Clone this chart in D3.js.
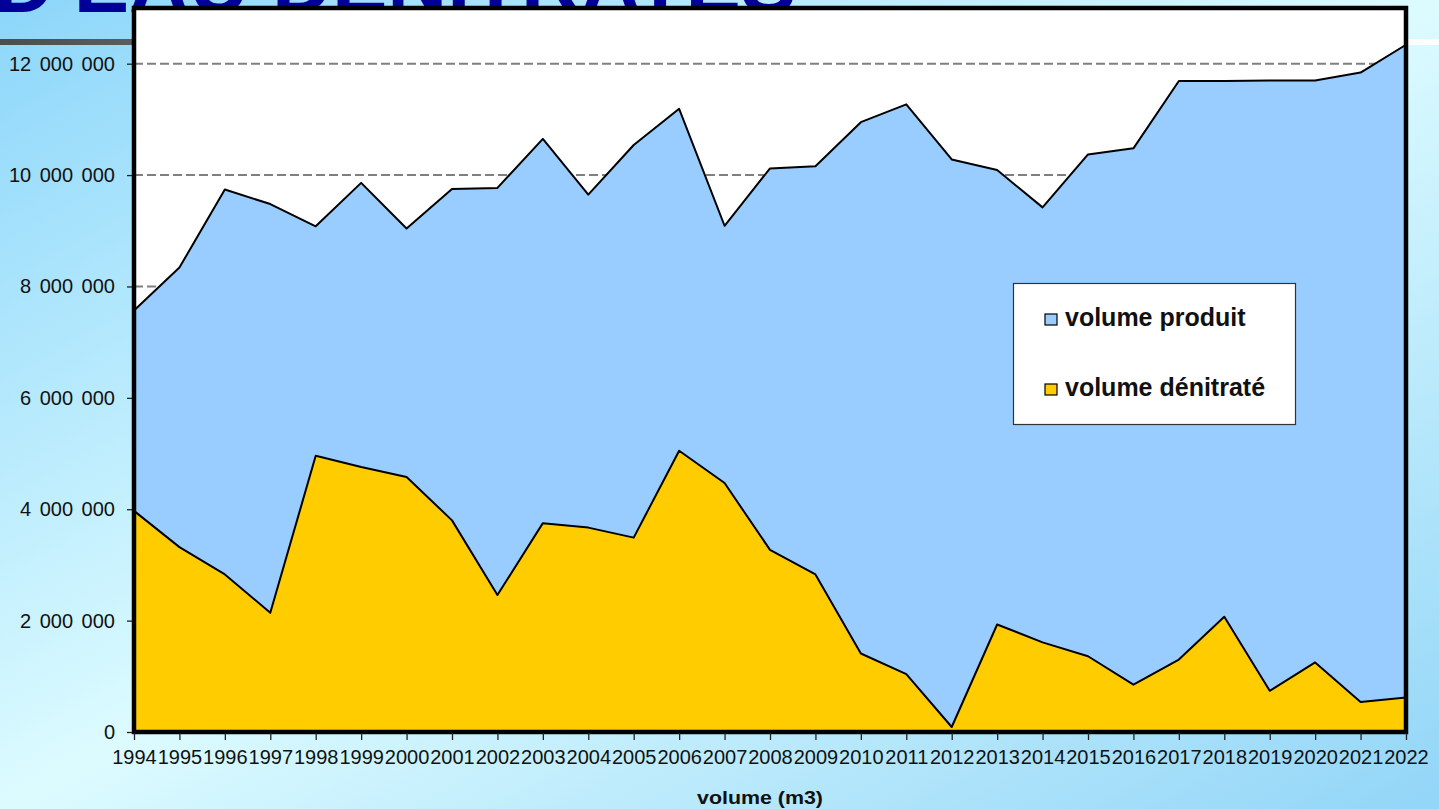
<!DOCTYPE html>
<html>
<head>
<meta charset="utf-8">
<script src="https://cdn.jsdelivr.net/npm/d3@7"></script>
<style>
  body { margin: 0; overflow: hidden; }
  svg text { font-family: Arial, "Liberation Sans", sans-serif; }
</style>
</head>
<body>
<div id="graph"></div>
<script>
const years = [1994, 1995, 1996, 1997, 1998, 1999, 2000, 2001, 2002, 2003, 2004, 2005, 2006, 2007,
               2008, 2009, 2010, 2011, 2012, 2013, 2014, 2015, 2016, 2017, 2018, 2019, 2020, 2021, 2022];

const volumeProduit = [7570000, 8340000, 9740000, 9480000, 9080000, 9860000, 9040000, 9750000, 9770000,
                       10650000, 9650000, 10540000, 11190000, 9090000, 10120000, 10160000, 10950000,
                       11270000, 10280000, 10090000, 9420000, 10370000, 10480000, 11690000, 11690000,
                       11700000, 11700000, 11840000, 12340000];

const volumeDenitrate = [3970000, 3320000, 2830000, 2140000, 4960000, 4760000, 4580000, 3800000, 2460000,
                         3750000, 3670000, 3490000, 5050000, 4470000, 3270000, 2830000, 1410000,
                         1040000, 90000, 1930000, 1610000, 1360000, 850000, 1300000, 2070000,
                         740000, 1250000, 540000, 620000];

const yTicks = [0, 2000000, 4000000, 6000000, 8000000, 10000000, 12000000];
const seriesNames = ["volume produit", "volume dénitraté"];
const axisTitle = "volume (m3)";
const titleText = "D'EAU DÉNITRATÉS";

const w = 1439,
      h = 809;

const vis = d3.select("#graph")
    .append("svg")
    .attr("width", w)
    .attr("height", h);

const defs = vis.append("defs");

const bg = defs.append("linearGradient")
    .attr("id", "bg")
    .attr("x1", "0").attr("y1", "0")
    .attr("x2", "1").attr("y2", "1");
bg.append("stop").attr("offset", "0%").attr("stop-color", "#8cd6fa");
bg.append("stop").attr("offset", "50%").attr("stop-color", "#dcfbff");
bg.append("stop").attr("offset", "100%").attr("stop-color", "#92d5f7");

const bar = defs.append("linearGradient")
    .attr("id", "bar")
    .attr("x1", "0").attr("y1", "0")
    .attr("x2", "1").attr("y2", "0");
bar.append("stop").attr("offset", "0%").attr("stop-color", "#4c4c4c");
bar.append("stop").attr("offset", "100%").attr("stop-color", "#ffffff");

vis.append("rect")
    .attr("width", w)
    .attr("height", h)
    .attr("fill", "url(#bg)");

// slide title, mostly hidden behind the chart (as in the original slide)
vis.append("text")
    .attr("x", -6)
    .attr("y", 12)
    .attr("font-size", "83px")
    .attr("font-weight", "bold")
    .attr("fill", "#000099")
    .text(titleText);

vis.append("rect")
    .attr("x", 0)
    .attr("y", 39)
    .attr("width", w)
    .attr("height", 6)
    .attr("fill", "url(#bar)");

const pLeft = 134,
      pRight = 1406,
      pTop = 8,
      pBottom = 732;

const x = d3.scalePoint()
    .domain(years)
    .range([pLeft, pRight]);

const y = d3.scaleLinear()
    .domain([0, 13000000])
    .range([pBottom, pTop]);

const fr = d3.formatLocale({decimal: ",", thousands: " ", grouping: [3], currency: ["", " €"]});
const fmt = fr.format(",d");

vis.append("rect")
    .attr("x", pLeft)
    .attr("y", pTop)
    .attr("width", pRight - pLeft)
    .attr("height", pBottom - pTop)
    .attr("fill", "#ffffff");

// dashed gridlines
vis.selectAll("line.grid")
    .data(yTicks.filter(function(d) { return d > 0; }))
    .enter()
    .append("line")
    .attr("class", "grid")
    .attr("x1", pLeft)
    .attr("x2", pRight)
    .attr("y1", function(d) { return y(d); })
    .attr("y2", function(d) { return y(d); })
    .style("stroke", "#7f7f7f")
    .style("stroke-width", 2)
    .style("stroke-dasharray", "9,4");

const areaOf = function(vals) {
    return d3.area()
        .x(function(d, i) { return x(years[i]); })
        .y0(pBottom)
        .y1(function(d) { return y(d); })(vals);
};
const lineOf = function(vals) {
    return d3.line()
        .x(function(d, i) { return x(years[i]); })
        .y(function(d) { return y(d); })(vals);
};

const series = [
    {name: seriesNames[0], values: volumeProduit, color: "#99ccff"},
    {name: seriesNames[1], values: volumeDenitrate, color: "#ffcc00"}
];

series.forEach(function(s) {
    vis.append("path")
        .attr("d", areaOf(s.values))
        .style("fill", s.color);
    vis.append("path")
        .attr("d", lineOf(s.values))
        .style("fill", "none")
        .style("stroke", "#000")
        .style("stroke-width", 2)
        .style("stroke-linejoin", "round");
});

// plot frame
vis.append("rect")
    .attr("x", pLeft)
    .attr("y", pTop)
    .attr("width", pRight - pLeft)
    .attr("height", pBottom - pTop)
    .style("fill", "none")
    .style("stroke", "#000")
    .style("stroke-width", 4.5);

// axes
const yAxis = vis.append("g")
    .attr("transform", "translate(" + (pLeft - 2) + ",0)")
    .call(d3.axisLeft(y).tickValues(yTicks).tickFormat(fmt).tickSize(5).tickPadding(12));

const xAxis = vis.append("g")
    .attr("transform", "translate(0," + (pBottom + 1) + ")")
    .call(d3.axisBottom(x).tickSize(7).tickPadding(10));

[yAxis, xAxis].forEach(function(g) {
    g.select(".domain").remove();
    g.selectAll(".tick line").style("stroke", "#222").style("stroke-width", 1.3);
    g.selectAll("text")
        .attr("font-size", "20px")
        .attr("font-family", "Arial, 'Liberation Sans', sans-serif")
        .attr("fill", "#111");
});
yAxis.selectAll("text").style("word-spacing", "3px");

vis.append("text")
    .attr("x", 760)
    .attr("y", 804)
    .attr("text-anchor", "middle")
    .attr("font-size", "19px")
    .attr("font-weight", "bold")
    .attr("fill", "#111")
    .attr("textLength", 126)
    .attr("lengthAdjust", "spacingAndGlyphs")
    .text(axisTitle);

// legend
const legend = vis.append("g");
legend.append("rect")
    .attr("x", 1013.5)
    .attr("y", 283.5)
    .attr("width", 282)
    .attr("height", 141)
    .style("fill", "#fff")
    .style("stroke", "#333")
    .style("stroke-width", 1.2);

const items = legend.selectAll("g.item")
    .data(series)
    .enter()
    .append("g")
    .attr("class", "item")
    .attr("transform", function(d, i) { return "translate(1045," + (314 + i * 70) + ")"; });

items.append("rect")
    .attr("width", 12)
    .attr("height", 11)
    .style("fill", function(d) { return d.color; })
    .style("stroke", "#000")
    .style("stroke-width", 1.2);

items.append("text")
    .attr("x", 20)
    .attr("y", 12)
    .attr("font-size", "25px")
    .attr("font-weight", "bold")
    .attr("fill", "#111")
    .text(function(d) { return d.name; });
</script>
</body>
</html>
